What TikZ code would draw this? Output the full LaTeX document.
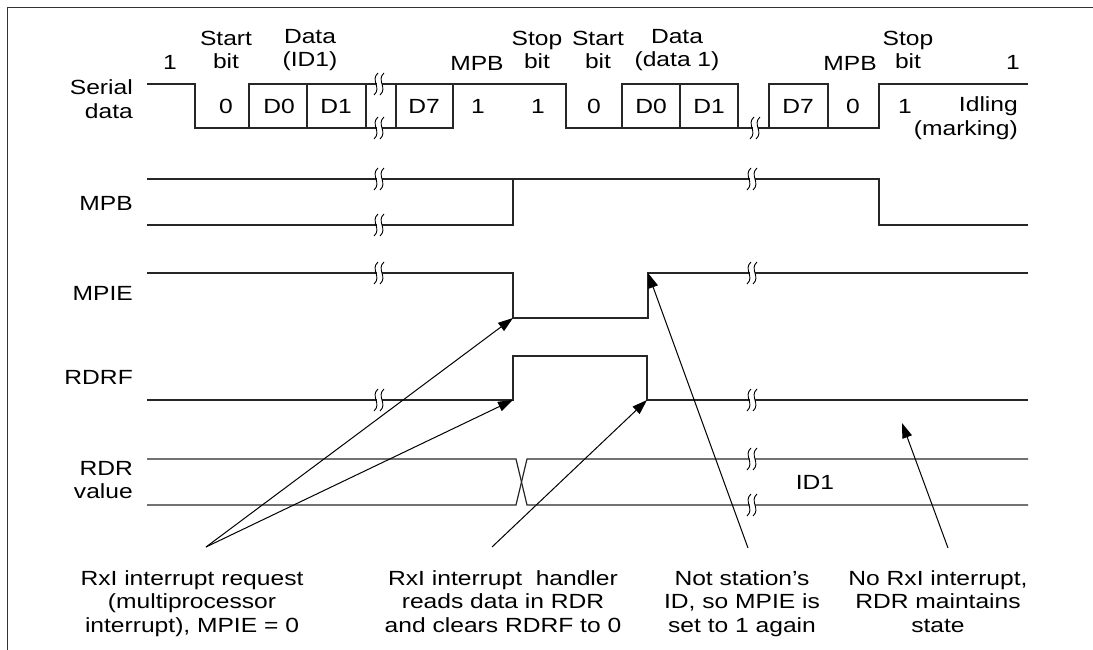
\documentclass[tikz,border=0pt]{standalone}
\usepackage{fontspec}
\setmainfont{Liberation Sans}[FakeStretch=1.2]
\usetikzlibrary{arrows.meta}
\begin{document}
\begin{tikzpicture}[x=1pt, y=-1pt, line join=miter, >={Triangle[length=15pt,width=10pt]},
  font=\fontsize{20.5}{23.5}\selectfont]
	\tikzset{sig/.style={line width=1.2pt, black!85},
		lbl/.style={inner sep=0pt, align=center},
		note/.style={inner sep=0pt, align=center, anchor=north},
		ptr/.style={->, line width=1pt},
		brk/.pic={
			\fill[white] (-2.5,-10) rectangle (2.5,10);
			\draw[line width=0.9pt] (-1,-11) .. controls (-9,-4) and (3,4) .. (-5,11);
			\draw[line width=0.9pt] (5,-11) .. controls (-3,-4) and (9,4) .. (1,11);
		}}
	
	\useasboundingbox (0,0) rectangle (1093,650);
	\draw[line width=1pt, black!80] (7,650) -- (7,8) -- (1093,8);
	
	% levels
	\def \sh{84}  \def \sl{128}
	\def \bh{179} \def \bl{225}
	\def \eh{273} \def \el{318}
	\def \fh{356} \def \fl{400}
	\def \rh{459} \def \rl{505}
	
	% row names
	\node[lbl, align=right, anchor=east] (serial) at (133,99) {Serial\\data};
	\node[lbl, anchor=east] (mpb) at (133,203) {MPB};
	\node[lbl, anchor=east] (mpie) at (133,293) {MPIE};
	\node[lbl, anchor=east] (rdrf) at (133,377) {RDRF};
	\node[lbl, align=right, anchor=east] (rdr) at (133,480) {RDR\\value};
	
	% serial data
	\draw[sig] (147,\sh) -- (195,\sh) -- (195,\sl) -- (453,\sl) -- (453,\sh) -- (566,\sh)
		-- (566,\sl) -- (879,\sl) -- (879,\sh) -- (1028,\sh);
	\draw[sig] (249,\sl) -- (249,\sh) -- (453,\sh);
	\draw[sig] (622,\sl) -- (622,\sh) -- (738,\sh) -- (738,\sl);
	\draw[sig] (769,\sl) -- (769,\sh) -- (828,\sh) -- (828,\sl);
	\foreach \x in {307,366,396,680}
		\draw[sig] (\x,\sh) -- (\x,\sl);
	\pic at (379,\sh) {brk};
	\foreach \y in {\sl} {
		\pic at (379,\y) {brk};
		\pic at (755,\y) {brk};
	}
	
	\foreach \x/\t [count=\i] in {170/1, 226/{Start\\bit}, 310/{Data\\(ID1)}, 537/{Stop\\bit},
		598/{Start\\bit}, 677/{Data\\(data 1)}, 908/{Stop\\bit}}
		\node[lbl] (head\i) at (\x,\ifnum\i=1 62\else 50\fi) {\t};
	\node[lbl] (mpbA) at (477,63) {MPB};
	\node[lbl] (mpbB) at (850,63) {MPB};
	\node[lbl] (idleA) at (1013,62) {1};
	\foreach \x/\t [count=\i] in {226/0, 279/D0, 336/D1, 424/D7, 478/1, 538/1, 594/0,
		651/D0, 709/D1, 798/D7, 853/0, 905/1}
		\node[lbl] (bit\i) at (\x,106) {\t};
	\node[lbl, align=right, anchor=east] (idle) at (1018,118) {Idling\\(marking)};
	
	% MPB
	\draw[sig] (147,\bh) -- (879,\bh) -- (879,\bl) -- (1028,\bl);
	\draw[sig] (147,\bl) -- (513,\bl) -- (513,\bh);
	\pic at (379,\bh) {brk};
	\pic at (379,\bl) {brk};
	\pic at (752,\bh) {brk};
	
	% MPIE
	\draw[sig] (147,\eh) -- (513,\eh) -- (513,\el) coordinate (mpieFall) -- (648,\el)
		-- (648,\eh) coordinate (mpieRise) -- (1028,\eh);
	\pic at (379,\eh) {brk};
	\pic at (752,\eh) {brk};
	
	% RDRF
	\draw[sig] (147,\fl) -- (513,\fl) coordinate (rdrfRise) -- (513,\fh) -- (647,\fh)
		-- (647,\fl) coordinate (rdrfFall) -- (1028,\fl);
	\pic at (379,\fl) {brk};
	\pic at (752,\fl) {brk};
	
	% RDR value
	\draw[sig] (147,\rh) -- (516,\rh) -- (527,\rl) -- (1028,\rl);
	\draw[sig] (147,\rl) -- (516,\rl) -- (527,\rh) -- (1028,\rh);
	\pic at (752,\rh) {brk};
	\pic at (752,\rl) {brk};
	\node[lbl] (id) at (815,482) {ID1};
	
	% notes
	\node[note] (req) at (192,570) {RxI interrupt request\\(multiprocessor\\interrupt), MPIE = 0};
	\node[note] (hdl) at (503,570) {RxI interrupt\ \ handler\\reads data in RDR\\and clears RDRF to 0};
	\node[note] (nid) at (742,570) {Not station’s\\ID, so MPIE is\\set to 1 again};
	\node[note] (nor) at (938,570) {No RxI interrupt,\\RDR maintains\\state};
	
	\coordinate (reqFoot) at (206,547);
	\coordinate (hdlFoot) at (492,547);
	\coordinate (nidFoot) at (748,548);
	\coordinate (norFoot) at (948,548);
	\coordinate (rdrKeep) at (902,423);
	\draw[ptr] (reqFoot) -- (mpieFall);
	\draw[ptr] (reqFoot) -- (rdrfRise);
	\draw[ptr] (hdlFoot) -- (rdrfFall);
	\draw[ptr] (nidFoot) -- (mpieRise);
	\draw[ptr] (norFoot) -- (rdrKeep);
\end{tikzpicture}
\end{document}
